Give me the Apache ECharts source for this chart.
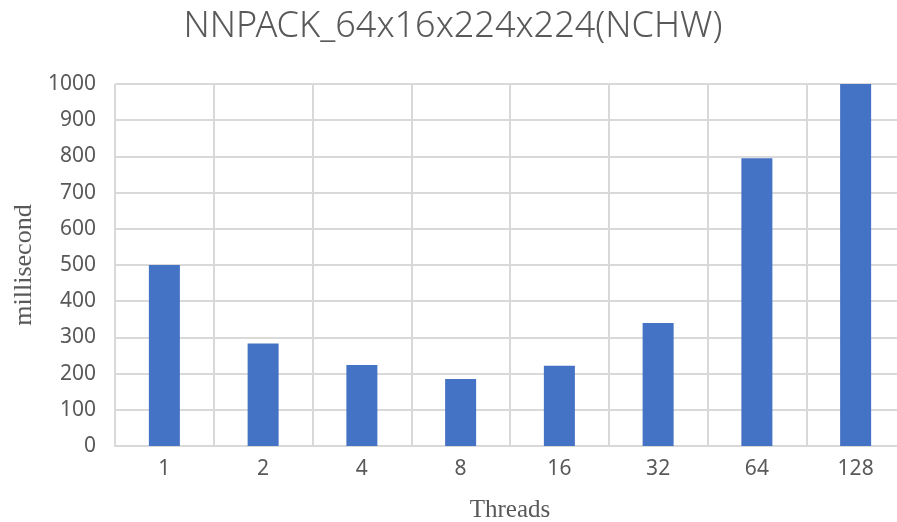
<!DOCTYPE html>
<html>
<head>
<meta charset="utf-8">
<script src="https://cdn.jsdelivr.net/npm/echarts@6/dist/echarts.min.js"></script>
<style>
  html, body { margin: 0; padding: 0; background: #fff; }
  #chart { width: 897px; height: 522px; }
</style>
</head>
<body>
<div id="chart"></div>
<script>
// Thread counts and measured convolution time (ms)
const threads = ['1', '2', '4', '8', '16', '32', '64', '128'];
const timesMs = [500, 283, 224, 185, 222, 340, 795, 1000];

const gridColor = '#d9d9d9';
const textColor = '#595959';

const chart = echarts.init(document.getElementById('chart'));
chart.setOption({
  animation: false,
  title: {
    text: 'NNPACK_64x16x224x224(NCHW)',
    left: 448,
    textAlign: 'center',
    top: 4,
    textStyle: {
      fontFamily: 'Noto Sans',
      fontWeight: 300,
      fontSize: 36,
      color: textColor
    }
  },
  grid: { left: 115, top: 84, width: 790, bottom: 76, containLabel: false, outerBoundsMode: 'none' },
  xAxis: {
    type: 'category',
    data: threads,
    name: 'Threads',
    nameLocation: 'middle',
    nameGap: 52,
    nameTextStyle: { fontFamily: 'Liberation Serif', fontSize: 25, color: textColor },
    axisLine: { lineStyle: { color: gridColor, width: 2 } },
    axisTick: { show: false },
    axisLabel: { fontFamily: 'Noto Sans', fontSize: 21, color: textColor, margin: 13 },
    splitLine: { show: true, lineStyle: { color: gridColor, width: 2 } }
  },
  yAxis: {
    type: 'value',
    min: 0,
    max: 1000,
    interval: 100,
    name: 'millisecond',
    nameLocation: 'middle',
    nameGap: 75,
    nameTextStyle: { fontFamily: 'Liberation Serif', fontSize: 26, color: textColor },
    axisLine: { show: false },
    axisTick: { show: false },
    axisLabel: {
      fontFamily: 'Noto Sans', fontSize: 21, color: textColor, margin: 19,
      formatter: v => String(v)
    },
    splitLine: { lineStyle: { color: gridColor, width: 2 } }
  },
  series: [{
    type: 'bar',
    data: timesMs,
    barWidth: 31,
    itemStyle: { color: '#4472c4' }
  }]
});
</script>
</body>
</html>
